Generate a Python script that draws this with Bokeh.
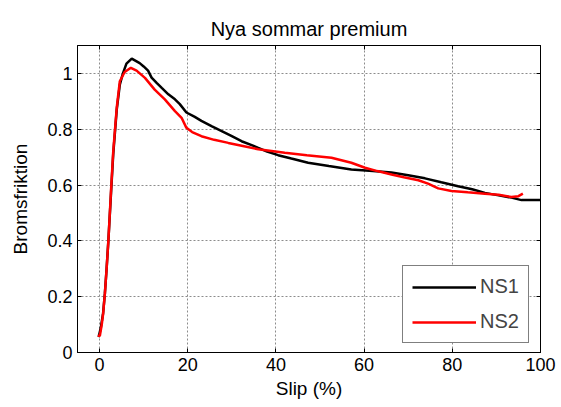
from bokeh.plotting import figure
from bokeh.models import (Range1d, LinearAxis, FixedTicker, NumeralTickFormatter, Legend,
                          LegendItem, CustomJSTickFormatter)
from bokeh.embed import file_html
from bokeh.resources import INLINE

title_text = "Nya sommar premium"
x_label = "Slip (%)"
y_label = "Bromsfriktion"
series_names = ["NS1", "NS2"]
x_ticks = [0, 20, 40, 60, 80, 100]
y_ticks = [0, 0.2, 0.4, 0.6, 0.8, 1.0]

ns1_x = [-0.2, 0.3, 0.8, 1.2, 1.6, 2.0, 2.6, 3.1, 3.9, 4.6, 5.3, 6.1, 7.3, 8.2, 9.1, 10.0,
         11.0, 11.8, 13.0, 14.1, 15.6, 17.1, 18.2, 19.7, 21.5, 23.1, 25.5, 27.7, 30.0, 32.2,
         34.5, 36.0, 38.0, 40.5, 43.5, 47.3, 52.0, 57.1, 62.0, 66.2, 70.0, 73.8, 77.5, 81.3,
         84.5, 87.4, 90.5, 93.4, 95.7, 100.0]
ns1_y = [0.055, 0.09, 0.14, 0.21, 0.30, 0.40, 0.57, 0.71, 0.87, 0.96, 1.0, 1.035, 1.053, 1.045,
         1.037, 1.025, 1.01, 0.985, 0.965, 0.948, 0.925, 0.907, 0.89, 0.86, 0.845, 0.83, 0.81,
         0.793, 0.775, 0.757, 0.743, 0.733, 0.72, 0.707, 0.695, 0.68, 0.668, 0.656, 0.65, 0.645,
         0.635, 0.624, 0.61, 0.596, 0.585, 0.572, 0.563, 0.555, 0.546, 0.546]

ns2_x = [-0.4, 0.07, 0.5, 0.8, 1.2, 1.6, 2.0, 2.6, 3.1, 3.9, 4.6, 5.7, 7.1, 8.4, 10.3, 12.5,
         14.8, 17.1, 18.6, 19.7, 21.0, 23.1, 26.0, 29.2, 32.5, 36.0, 39.0, 42.0, 47.0, 52.6,
         57.1, 60.2, 63.0, 66.2, 69.0, 72.3, 74.5, 76.8, 79.8, 83.5, 87.4, 90.5, 93.4, 95.0, 96.0]
ns2_y = [0.06, 0.06, 0.10, 0.137, 0.209, 0.30, 0.40, 0.579, 0.72, 0.877, 0.972, 1.005, 1.02,
         1.01, 0.984, 0.942, 0.907, 0.865, 0.841, 0.805, 0.79, 0.775, 0.762, 0.751, 0.74, 0.728,
         0.722, 0.716, 0.707, 0.698, 0.68, 0.662, 0.65, 0.638, 0.628, 0.617, 0.605, 0.588, 0.579,
         0.574, 0.569, 0.565, 0.557, 0.56, 0.569]

FONT = "Liberation Sans"

p = figure(frame_width=463, frame_height=307,
           x_range=Range1d(-5, 100), y_range=Range1d(0, 1.1),
           output_backend="svg", toolbar_location=None,
           min_border_left=77, min_border_right=21, min_border_top=45, min_border_bottom=55,
           background_fill_color="white", border_fill_color="white")
p.outline_line_color = "black"

p.title.text = title_text
p.title.align = "center"
p.title.text_font = FONT
p.title.text_font_size = "20px"
p.title.text_font_style = "normal"
p.title.text_color = "black"
p.title.standoff = 12

bottom_ax = p.below[0]
left_ax = p.left[0]
top_ax = LinearAxis(formatter=CustomJSTickFormatter(code="return ''"))
right_ax = LinearAxis(formatter=CustomJSTickFormatter(code="return ''"))
p.add_layout(top_ax, "above")
p.add_layout(right_ax, "right")

for ax in [bottom_ax, top_ax]:
    ax.ticker = FixedTicker(ticks=x_ticks)
for ax in [left_ax, right_ax]:
    ax.ticker = FixedTicker(ticks=y_ticks)
left_ax.formatter = NumeralTickFormatter(format="0.[0]")

for ax in [bottom_ax, left_ax, top_ax, right_ax]:
    ax.axis_line_color = "black"
    ax.axis_line_width = 1
    ax.major_tick_line_color = "black"
    ax.major_tick_in = 4
    ax.major_tick_out = 0
    ax.minor_tick_line_color = None
    ax.major_label_text_font = FONT
    ax.major_label_text_font_size = "18px"
    ax.major_label_text_color = "black"
    ax.axis_label_text_font = FONT
    ax.axis_label_text_font_size = "19px"
    ax.axis_label_text_font_style = "normal"
    ax.axis_label_text_color = "black"

top_ax.major_label_standoff = 5
right_ax.major_label_standoff = 0

bottom_ax.axis_label = x_label
left_ax.axis_label = y_label
bottom_ax.major_label_standoff = 5
left_ax.major_label_standoff = 5
bottom_ax.axis_label_standoff = 4
left_ax.axis_label_standoff = 13

p.xgrid.ticker = FixedTicker(ticks=x_ticks)
p.ygrid.ticker = FixedTicker(ticks=y_ticks)
for g in [p.xgrid[0], p.ygrid[0]]:
    g.grid_line_color = "#8c8c8c"
    g.grid_line_dash = "2 2"
    g.grid_line_width = 1

r1 = p.line(ns1_x, ns1_y, line_color="black", line_width=2.5)
r2 = p.line(ns2_x, ns2_y, line_color="#ff0000", line_width=2.5)

legend = Legend(items=[LegendItem(label=series_names[0], renderers=[r1]),
                       LegendItem(label=series_names[1], renderers=[r2])],
                location=(325, 9))
legend.border_line_color = "black"
legend.border_line_width = 1
legend.background_fill_color = "white"
legend.background_fill_alpha = 1
legend.label_text_font = FONT
legend.label_text_font_size = "20px"
legend.glyph_width = 64
legend.glyph_height = 18
legend.label_height = 18
legend.label_standoff = 4
legend.spacing = 12
legend.padding = 9
legend.margin = 0
p.add_layout(legend, "center")

open("out.html", "w").write(file_html(p, INLINE))
